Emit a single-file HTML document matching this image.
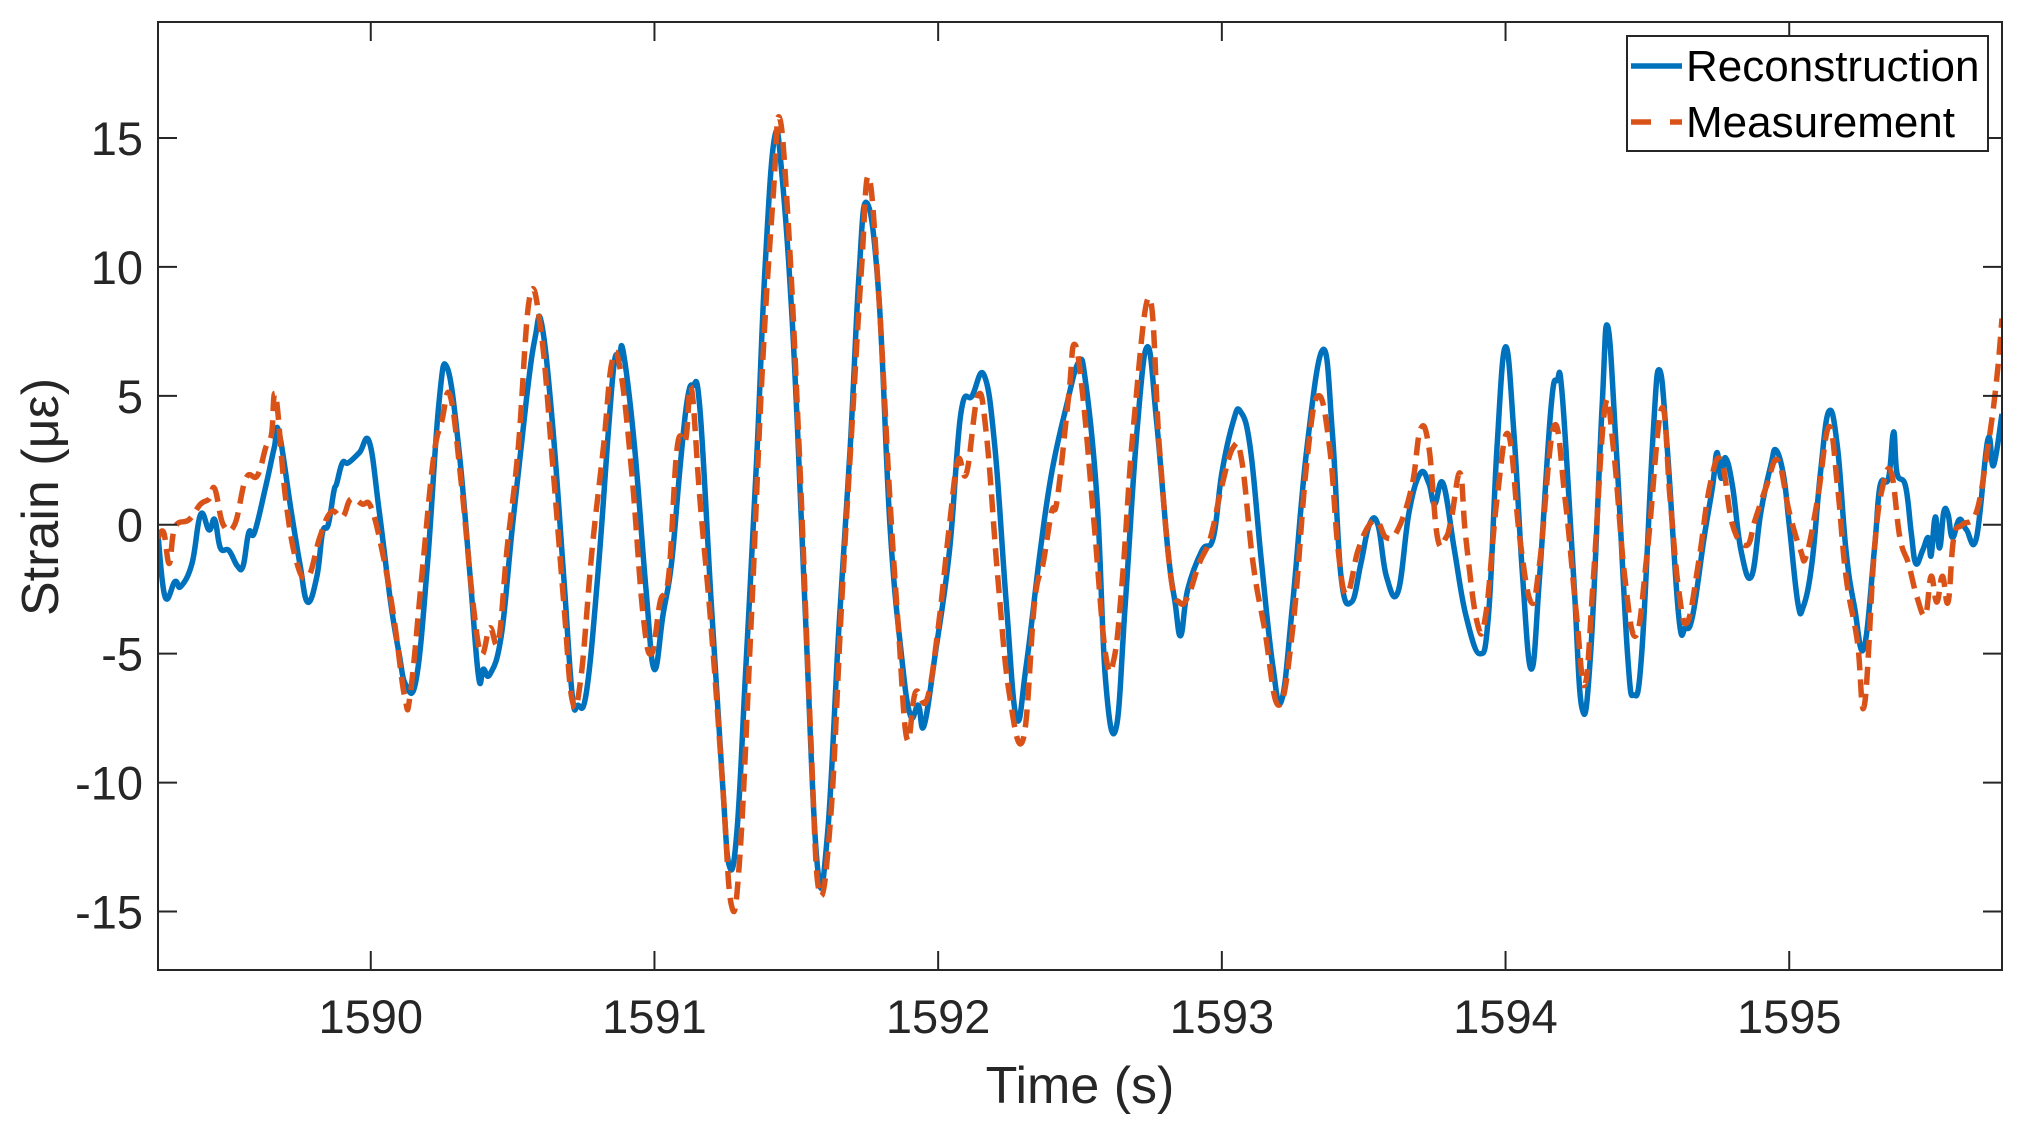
<!DOCTYPE html>
<html><head><meta charset="utf-8"><style>
html,body{margin:0;padding:0;background:#fff;}
svg{display:block;font-family:"Liberation Sans",Arial,sans-serif;}
</style></head><body>
<svg id="chart" width="2026" height="1124" viewBox="0 0 2026 1124" xmlns="http://www.w3.org/2000/svg">
<rect x="0" y="0" width="2026" height="1124" fill="#fff"/>
<g id="plot"></g>
</svg>
<script>
const recTimes=[1589.25,1589.275,1589.31,1589.33,1589.37,1589.40,1589.43,1589.45,1589.47,1589.50,1589.53,1589.55,1589.57,1589.59,1589.63,1589.66,1589.676,1589.72,1589.75,1589.777,1589.81,1589.83,1589.85,1589.87,1589.88,1589.90,1589.92,1589.96,1589.995,1590.03,1590.07,1590.10,1590.123,1590.16,1590.20,1590.24,1590.269,1590.31,1590.35,1590.38,1590.397,1590.42,1590.46,1590.50,1590.55,1590.58,1590.602,1590.64,1590.68,1590.71,1590.73,1590.76,1590.80,1590.84,1590.86,1590.876,1590.89,1590.93,1590.97,1590.999,1591.03,1591.06,1591.09,1591.115,1591.136,1591.16,1591.20,1591.24,1591.263,1591.29,1591.32,1591.36,1591.39,1591.423,1591.45,1591.49,1591.53,1591.574,1591.61,1591.65,1591.69,1591.72,1591.747,1591.79,1591.83,1591.87,1591.902,1591.93,1591.95,1591.99,1592.04,1592.08,1592.12,1592.162,1592.20,1592.24,1592.276,1592.31,1592.36,1592.40,1592.45,1592.495,1592.52,1592.56,1592.59,1592.627,1592.66,1592.70,1592.737,1592.77,1592.81,1592.835,1592.855,1592.88,1592.93,1592.97,1593.00,1593.04,1593.065,1593.10,1593.14,1593.18,1593.211,1593.25,1593.30,1593.357,1593.39,1593.42,1593.457,1593.49,1593.52,1593.55,1593.58,1593.621,1593.66,1593.70,1593.73,1593.75,1593.78,1593.82,1593.86,1593.909,1593.94,1593.97,1594.00,1594.03,1594.06,1594.091,1594.12,1594.16,1594.182,1594.20,1594.24,1594.269,1594.30,1594.34,1594.36,1594.39,1594.43,1594.452,1594.48,1594.52,1594.543,1594.57,1594.61,1594.634,1594.66,1594.70,1594.73,1594.745,1594.76,1594.775,1594.80,1594.83,1594.867,1594.90,1594.935,1594.953,1594.98,1595.00,1595.03,1595.049,1595.08,1595.11,1595.14,1595.17,1595.20,1595.23,1595.263,1595.30,1595.32,1595.35,1595.368,1595.38,1595.41,1595.43,1595.446,1595.47,1595.49,1595.50,1595.515,1595.53,1595.545,1595.56,1595.575,1595.60,1595.625,1595.66,1595.70,1595.72,1595.75];
const recValues=[-0.4,-2.8,-2.2,-2.4,-1.5,0.4,-0.2,0.2,-0.9,-1.0,-1.6,-1.6,-0.3,-0.3,1.5,3.0,3.6,0.5,-1.5,-3.0,-2.0,-0.3,0,1.3,1.6,2.4,2.4,2.8,3.2,0.5,-3.0,-5.0,-6.2,-6.0,-1.5,4.7,6.1,3.0,-2.0,-5.9,-5.6,-5.8,-4.3,0.0,5.0,7.3,7.8,4.0,-2.0,-6.6,-7.0,-6.5,-2.0,4.0,6.4,6.4,6.7,3.0,-2.5,-5.6,-3.5,-1.5,2.2,4.8,5.4,4.5,-3.0,-10.0,-13.2,-12.0,-6.0,2.5,10.0,15.0,13.5,7.0,-3.0,-13.2,-12.0,-4.0,3.0,9.5,12.5,9.0,0,-5.0,-7.4,-7.0,-7.8,-5.0,-1.0,4.3,5.0,5.8,3.0,-3.0,-7.5,-5.5,-1.0,2.0,4.5,6.3,5.5,1.0,-6.0,-7.9,-3.0,3.5,6.9,4.0,-1.0,-3.0,-4.3,-2.5,-1.0,-0.5,2.0,4.0,4.4,3.0,-1.5,-5.5,-6.8,-3.0,3.0,6.8,3.5,-2.0,-3.0,-1.5,0.0,0.0,-2.0,-2.6,0.5,2.0,1.6,0.8,1.6,-1.0,-3.5,-5.0,-3.5,3.0,6.9,3.5,-2.0,-5.6,-2.0,4.5,5.6,5.0,-2.0,-7.1,-5.0,4.5,7.7,3.0,-5.0,-6.6,-5.0,3.5,6.0,3.0,-3.5,-4.0,-3.5,-0.5,1.5,2.8,1.8,2.6,1.5,-1.0,-2.0,0.5,2.3,2.9,1.9,0.0,-3.0,-3.2,-1.5,2.0,4.4,3.0,-1.0,-3.2,-4.8,-1.0,1.5,1.8,3.6,2.0,1.5,-0.3,-1.5,-1.0,-0.5,-1.2,0.3,-0.9,0.5,0.4,-0.5,0.2,-0.2,-0.5,3.3,2.3,4.3];
const measTimes=[1589.25,1589.27,1589.29,1589.31,1589.36,1589.40,1589.43,1589.45,1589.48,1589.52,1589.56,1589.60,1589.63,1589.65,1589.665,1589.70,1589.74,1589.78,1589.82,1589.86,1589.90,1589.93,1589.97,1590.00,1590.04,1590.08,1590.12,1590.14,1590.18,1590.22,1590.25,1590.28,1590.32,1590.36,1590.39,1590.42,1590.45,1590.48,1590.52,1590.56,1590.60,1590.64,1590.68,1590.71,1590.74,1590.78,1590.82,1590.85,1590.88,1590.92,1590.96,1590.99,1591.02,1591.05,1591.08,1591.11,1591.13,1591.16,1591.20,1591.24,1591.27,1591.30,1591.34,1591.38,1591.42,1591.44,1591.47,1591.51,1591.55,1591.58,1591.62,1591.66,1591.70,1591.73,1591.755,1591.79,1591.83,1591.86,1591.89,1591.92,1591.96,1592.00,1592.04,1592.07,1592.10,1592.14,1592.17,1592.21,1592.25,1592.30,1592.34,1592.37,1592.40,1592.42,1592.46,1592.48,1592.51,1592.55,1592.59,1592.62,1592.65,1592.69,1592.745,1592.78,1592.82,1592.85,1592.88,1592.92,1592.96,1593.00,1593.04,1593.07,1593.11,1593.15,1593.20,1593.25,1593.30,1593.34,1593.38,1593.41,1593.44,1593.48,1593.52,1593.55,1593.58,1593.62,1593.67,1593.70,1593.73,1593.76,1593.79,1593.81,1593.84,1593.86,1593.90,1593.93,1593.97,1594.01,1594.05,1594.09,1594.12,1594.17,1594.21,1594.25,1594.28,1594.31,1594.35,1594.38,1594.42,1594.46,1594.50,1594.55,1594.58,1594.61,1594.64,1594.68,1594.72,1594.76,1594.80,1594.85,1594.88,1594.92,1594.96,1595.00,1595.04,1595.06,1595.10,1595.14,1595.17,1595.20,1595.24,1595.265,1595.30,1595.33,1595.36,1595.39,1595.42,1595.45,1595.48,1595.50,1595.52,1595.54,1595.56,1595.58,1595.61,1595.66,1595.70,1595.73,1595.75];
const measValues=[-0.5,-0.3,-1.5,-0.1,0.2,0.8,1.0,1.4,0.0,0.0,1.8,1.9,3.0,3.5,5.0,1.0,-1.5,-2.0,-0.5,0.5,0.3,1.0,0.8,0.7,-1.0,-3.5,-6.7,-6.5,-2.0,2.5,4.0,5.0,1.5,-3.0,-5.0,-4.0,-4.5,-1.0,3.0,8.8,7.5,2.5,-3.0,-6.8,-6.0,-1.0,3.0,6.3,6.0,2.0,-3.5,-5.0,-3.0,-2.0,3.0,3.3,5.3,1.0,-4.0,-10.0,-14.7,-13.0,-4.0,6.0,13.0,15.8,12.0,3.0,-8.0,-14.2,-11.5,-3.0,4.5,10.0,13.5,9.0,1.0,-4.0,-8.3,-6.5,-6.8,-4.0,0.0,2.5,2.0,5.0,3.5,-2.0,-6.5,-8.3,-3.0,-1.5,0.5,1.0,5.0,7.0,5.0,0.0,-5.0,-5.2,-2.0,4.0,8.8,3.0,-2.0,-3.0,-2.8,-1.5,-0.5,1.5,3.0,2.5,-1.5,-4.0,-7.0,-4.0,2.5,5.0,3.0,-1.0,-2.7,-1.0,0.0,0.1,-0.5,-0.2,1.5,3.7,3.0,-0.5,-0.5,0.3,2.0,-0.5,-3.8,-3.5,1.0,3.5,-0.5,-3.0,-1.5,3.8,1.0,-3.5,-6.2,-2.0,4.5,3.0,-2.0,-4.3,-1.0,4.5,1.0,-2.5,-3.8,-1.5,1.5,2.5,0.0,-0.8,0.2,1.5,2.5,0.5,-1.0,-1.2,1.0,3.8,1.5,-2.0,-4.5,-7.0,-1.0,1.5,2.0,-0.5,-1.5,-2.8,-3.5,-2.0,-3.0,-2.0,-3.0,-0.5,0.0,0.5,3.0,5.5,8.0];
const xTicks=[1590,1591,1592,1593,1594,1595];
const yTicks=[-15,-10,-5,0,5,10,15];
const seriesNames=["Reconstruction","Measurement"];

const NS="http://www.w3.org/2000/svg";
const L=158,R=2002,T=22,B=970;
const X0=1589.25,X1=1595.75,Y0=-17.27,Y1=19.5;
function sx(t){return L+(t-X0)/(X1-X0)*(R-L);}
function sy(v){return B-(v-Y0)/(Y1-Y0)*(B-T);}
const g=document.getElementById('plot');
function mk(tag,attrs){const e=document.createElementNS(NS,tag);for(const k in attrs)e.setAttribute(k,attrs[k]);return e;}

const defs=mk('defs',{});const cp=mk('clipPath',{id:'clip'});cp.appendChild(mk('rect',{x:L,y:T,width:R-L,height:B-T}));defs.appendChild(cp);g.appendChild(defs);

function pathFor(ts,vs){
  const p=ts.map((t,i)=>[sx(t),sy(vs[i])]);
  let d='M'+p[0][0].toFixed(1)+' '+p[0][1].toFixed(1);
  for(let i=0;i<p.length-1;i++){
    const p0=p[i-1]||p[i],p1=p[i],p2=p[i+1],p3=p[i+2]||p[i+1];
    const k=0.2;
    const c1=[p1[0]+(p2[0]-p0[0])*k,p1[1]+(p2[1]-p0[1])*k];
    const c2=[p2[0]-(p3[0]-p1[0])*k,p2[1]-(p3[1]-p1[1])*k];
    d+=' C'+c1[0].toFixed(1)+' '+c1[1].toFixed(1)+' '+c2[0].toFixed(1)+' '+c2[1].toFixed(1)+' '+p2[0].toFixed(1)+' '+p2[1].toFixed(1);
  }
  return d;
}
const lines=mk('g',{'clip-path':'url(#clip)'});
const rec=mk('path',{d:pathFor(recTimes,recValues),fill:'none',stroke:'#0072BD','stroke-width':5.5,'stroke-linejoin':'round'});


const meas=mk('path',{d:pathFor(measTimes,measValues),fill:'none',stroke:'#D95319','stroke-width':5.5,'stroke-dasharray':'18 9'});


lines.appendChild(rec);lines.appendChild(meas);g.appendChild(lines);

const box=mk('rect',{x:L,y:T,width:R-L,height:B-T,fill:'none',stroke:'#262626','stroke-width':2});


g.appendChild(box);
const TL=19;
xTicks.forEach(t=>{
  const x=sx(t);
  g.appendChild(mk('line',{x1:x,y1:B,x2:x,y2:B-TL,stroke:'#262626','stroke-width':2}));
  g.appendChild(mk('line',{x1:x,y1:T,x2:x,y2:T+TL,stroke:'#262626','stroke-width':2}));
  const tx=mk('text',{x:x,y:1033,'text-anchor':'middle','font-size':47,fill:'#262626'});
  tx.textContent=t;
  
  
  g.appendChild(tx);
});
yTicks.forEach(v=>{
  const y=sy(v);
  g.appendChild(mk('line',{x1:L,y1:y,x2:L+TL,y2:y,stroke:'#262626','stroke-width':2}));
  g.appendChild(mk('line',{x1:R,y1:y,x2:R-TL,y2:y,stroke:'#262626','stroke-width':2}));
  const tx=mk('text',{x:143,y:y+17,'text-anchor':'end','font-size':47,fill:'#262626'});
  tx.textContent=v;
  
  
  g.appendChild(tx);
});
const xt=mk('text',{x:(L+R)/2,y:1103,'text-anchor':'middle','font-size':52,fill:'#262626'});
xt.textContent='Time (s)';


g.appendChild(xt);
const yt=mk('text',{x:0,y:0,'text-anchor':'middle','font-size':52,fill:'#262626',transform:'translate(58,497) rotate(-90)'});
yt.textContent='Strain (με)';


g.appendChild(yt);

const lg=mk('g',{});


lg.appendChild(mk('rect',{x:1627,y:36,width:361,height:115,fill:'#fff',stroke:'#262626','stroke-width':2}));
const e1=mk('g',{});


e1.appendChild(mk('line',{x1:1631,y1:66,x2:1682,y2:66,stroke:'#0072BD','stroke-width':5.5}));
const t1=mk('text',{x:1686,y:81,'font-size':44,fill:'#000'});t1.textContent=seriesNames[0];e1.appendChild(t1);
lg.appendChild(e1);
const e2=mk('g',{});


e2.appendChild(mk('line',{x1:1631,y1:122,x2:1682,y2:122,stroke:'#D95319','stroke-width':5.5,'stroke-dasharray':'20 19'}));
const t2=mk('text',{x:1686,y:137,'font-size':44,fill:'#000'});t2.textContent=seriesNames[1];e2.appendChild(t2);
lg.appendChild(e2);
g.appendChild(lg);
</script>
</body></html>
